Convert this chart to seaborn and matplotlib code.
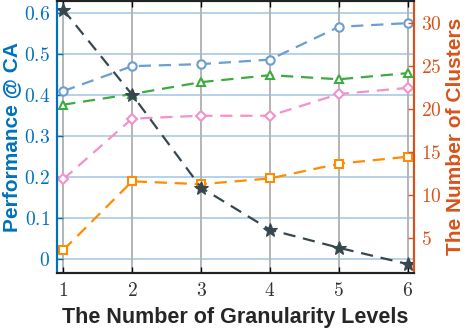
import numpy as np
import pandas as pd
import matplotlib
matplotlib.use("Agg")
import matplotlib.pyplot as plt
import seaborn as sns
from matplotlib.ticker import FuncFormatter

sns.set_theme(style="white")
plt.rcParams['mathtext.fontset'] = 'cm'
plt.rcParams['font.family'] = ['Liberation Sans', 'DejaVu Sans']

levels = [1, 2, 3, 4, 5, 6]
blue_circle = [0.410, 0.471, 0.476, 0.487, 0.567, 0.576]
green_triangle = [0.377, 0.403, 0.432, 0.449, 0.439, 0.454]
pink_diamond = [0.195, 0.343, 0.350, 0.350, 0.403, 0.418]
orange_square = [0.022, 0.190, 0.183, 0.197, 0.233, 0.250]
num_clusters = [31.6, 21.7, 10.9, 6.0, 3.9, 2.0]

left_ticks = [0, 0.1, 0.2, 0.3, 0.4, 0.5, 0.6]
right_ticks = [5, 10, 15, 20, 25, 30]

c_left = '#0072BD'
c_right = '#D95319'

fig = plt.figure(figsize=(4.68, 3.32), dpi=100)
ax = fig.add_axes([0.1218, 0.1786, 0.7628, 0.8184])
ax2 = ax.twinx()

series = [
    (blue_circle, '#6A9FD0', 'o'),
    (green_triangle, '#3FAA3F', '^'),
    (pink_diamond, '#F590CB', 'D'),
    (orange_square, '#FF8C00', 's'),
]
for vals, col, mk in series:
    sns.lineplot(x=levels, y=vals, ax=ax, color=col, linewidth=1.6,
                 marker=mk, markersize=6 if mk != 'D' else 5, markerfacecolor='white',
                 markeredgecolor=col, markeredgewidth=1.5)
    ax.lines[-1].set_dashes([5.5, 3.5])

sns.lineplot(x=levels, y=num_clusters, ax=ax2, color='#36474F', linewidth=1.6,
             marker='*', markersize=10, markerfacecolor='#36474F',
             markeredgecolor='#36474F')
ax2.lines[-1].set_dashes([5.5, 3.5])

ax.set_xlim(0.91, 6.09)
ax.set_ylim(-0.033, 0.63)
ax2.set_ylim(1.0, 32.6)
ax.set_xticks(levels)
ax.set_yticks(left_ticks)
ax2.set_yticks(right_ticks)

ax.xaxis.set_major_formatter(FuncFormatter(lambda v, p: r'$%d$' % v))
ax.yaxis.set_major_formatter(FuncFormatter(lambda v, p: r'$0$' if abs(v) < 1e-9 else r'$%.1f$' % v))
ax2.yaxis.set_major_formatter(FuncFormatter(lambda v, p: r'$%d$' % v))

ax.grid(False)
ax2.grid(False)
for t in left_ticks:
    ax.axhline(t, color='#A8CBE8', linewidth=1.2, zorder=0)
for t in levels:
    ax.axvline(t, color='#B4B4B4', linewidth=1.4, zorder=0)

ax.tick_params(axis='x', direction='in', length=4, width=1, colors='black',
               labelcolor='#333333', labelsize=14, top=True, bottom=True, pad=7)
ax.tick_params(axis='y', direction='in', length=4, width=1, colors=c_left,
               labelcolor=c_left, labelsize=14, left=True, pad=5)
ax2.tick_params(axis='y', direction='in', length=4, width=1, colors=c_right,
                labelcolor=c_right, labelsize=14, right=True, pad=5)

for a in (ax, ax2):
    for s in a.spines.values():
        s.set_linewidth(1.5)
        s.set_color('#222222')
ax.spines['left'].set_color(c_left)
ax2.spines['left'].set_color(c_left)
ax2.spines['right'].set_color(c_right)
ax.spines['right'].set_color(c_right)

ax.set_xlabel('The Number of Granularity Levels', fontsize=15.5, fontweight='bold',
              color='#262626', labelpad=5)
ax.set_ylabel('Performance @ CA', fontsize=15, fontweight='bold', color=c_left, labelpad=2)
ax2.set_ylabel('The Number of Clusters', fontsize=15, fontweight='bold', color=c_right, labelpad=3)

fig.savefig('out.png', dpi=100)
